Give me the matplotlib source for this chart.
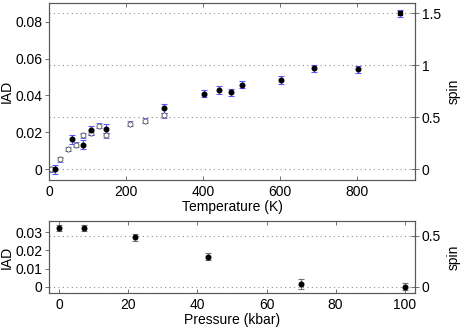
import matplotlib
matplotlib.use("Agg")
import matplotlib.pyplot as plt

plt.rcParams['font.family'] = ['Liberation Sans', 'DejaVu Sans']
plt.rcParams['font.size'] = 10

# temperature series, filled markers
t_fill = [15, 60, 89, 110, 149, 298, 402, 440, 473, 502, 601, 688, 802]
iad_fill = [0.0, 0.0163, 0.0134, 0.0212, 0.0219, 0.0330, 0.0410, 0.0428, 0.0416, 0.0459, 0.0484, 0.0546, 0.0541]
err_fill = [0.0024, 0.0025, 0.0024, 0.0024, 0.0024, 0.0025, 0.0021, 0.0021, 0.0021, 0.0021, 0.0021, 0.0021, 0.0021]
# high temperature point (square)
t_sq = [912]
iad_sq = [0.0844]
err_sq = [0.0020]
# temperature series, open markers
t_open = [5, 28, 49, 70, 89, 110, 130, 149, 209, 250, 298]
iad_open = [0.0, 0.0054, 0.0110, 0.0134, 0.0185, 0.0199, 0.0237, 0.0185, 0.0247, 0.0263, 0.0292]
err_open = [0.0013] * 11

# pressure series
p = [0, 7, 22, 43, 70, 100]
iad_p = [0.0324, 0.0324, 0.0271, 0.0166, 0.0015, 0.0]
err_p = [0.0018, 0.0018, 0.0018, 0.0018, 0.0028, 0.0018]

spin_ratio = 17.75
blue = (0.35, 0.35, 1.0)
grey = (0.45, 0.45, 0.45)

fig = plt.figure(figsize=(4.63, 3.27), dpi=100)

def style(ax, ax2, ylim, spin_ticks):
    ax.set_ylim(ylim)
    ax2.set_ylim(ylim[0] * spin_ratio, ylim[1] * spin_ratio)
    ax2.set_yticks(spin_ticks)
    ax2.set_yticklabels(['%g' % s for s in spin_ticks])
    ax2.set_ylabel('spin', labelpad=4)
    for s in spin_ticks:
        ax2.axhline(s, color='0.55', ls=(0, (1, 3)), lw=0.8, zorder=0)
    ax.tick_params(axis='x', direction='in', top=True, length=3, width=0.6, color='0.35')
    ax.tick_params(axis='y', direction='out', length=3, width=0.6, color='0.35', pad=1.5)
    ax2.tick_params(direction='inout', length=6, width=0.6, color='0.35', pad=2)
    ax.yaxis.set_label_coords(-0.095, 0.5)
    for a in (ax, ax2):
        for sp in a.spines.values():
            sp.set_linewidth(0.8)
            sp.set_color('0.35')
    ax.set_zorder(ax2.get_zorder() + 1)
    ax.patch.set_visible(False)

# top panel
ax = fig.add_axes([0.1058, 0.4495, 0.7905, 0.5398])
ax2 = ax.twinx()
ax.errorbar(t_open, iad_open, yerr=err_open, fmt='h', ms=4, mfc='white', mec='0.3',
            mew=0.6, ecolor=blue, elinewidth=0.8, capsize=2.5, capthick=0.8)
ax.errorbar(t_fill, iad_fill, yerr=err_fill, fmt='o', ms=3.3, mfc='black', mec='black',
            ecolor=blue, elinewidth=0.8, capsize=2.5, capthick=0.8)
ax.errorbar(t_sq, iad_sq, yerr=err_sq, fmt='s', ms=3.5, mfc='black', mec='black',
            ecolor=blue, elinewidth=0.8, capsize=2.5, capthick=0.8)
ax.set_xlim(0, 950)
ax.set_xticks([0, 200, 400, 600, 800])
ax.set_yticks([0, 0.02, 0.04, 0.06, 0.08])
ax.set_yticklabels(['0', '0.02', '0.04', '0.06', '0.08'])
ax.set_xlabel('Temperature (K)', labelpad=1)
ax.set_ylabel('IAD')
style(ax, ax2, (-0.0058, 0.0898), [0, 0.5, 1, 1.5])

# bottom panel
bx = fig.add_axes([0.1058, 0.104, 0.7905, 0.2202])
bx2 = bx.twinx()
bx.errorbar(p, iad_p, yerr=err_p, fmt='o', ms=3.3, mfc='black', mec='black',
            ecolor=grey, elinewidth=0.8, capsize=2.5, capthick=0.8)
bx.set_xlim(-3, 103)
bx.set_xticks([0, 20, 40, 60, 80, 100])
bx.set_yticks([0, 0.01, 0.02, 0.03])
bx.set_yticklabels(['0', '0.01', '0.02', '0.03'])
bx.set_xlabel('Pressure (kbar)', labelpad=1)
bx.set_ylabel('IAD')
style(bx, bx2, (-0.0035, 0.0362), [0, 0.5])

fig.savefig('out.png', dpi=100)
